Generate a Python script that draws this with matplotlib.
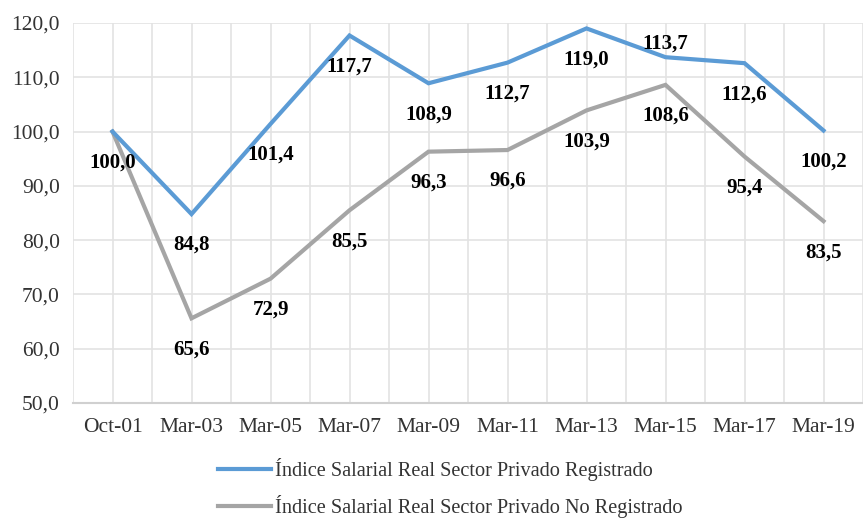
import matplotlib
matplotlib.use("Agg")
import matplotlib.pyplot as plt

# chart data
periods = ["Oct-01", "Mar-03", "Mar-05", "Mar-07", "Mar-09",
           "Mar-11", "Mar-13", "Mar-15", "Mar-17", "Mar-19"]
registrado = [100.0, 84.8, 101.4, 117.7, 108.9, 112.7, 119.0, 113.7, 112.6, 100.2]
no_registrado = [100.0, 65.6, 72.9, 85.5, 96.3, 96.6, 103.9, 108.6, 95.4, 83.5]
y_ticks = [50, 60, 70, 80, 90, 100, 110, 120]

label_reg = "Índice Salarial Real Sector Privado Registrado"
label_noreg = "Índice Salarial Real Sector Privado No Registrado"

plt.rcParams["font.family"] = ["Liberation Serif", "DejaVu Serif"]

fig = plt.figure(figsize=(8.63, 5.19), dpi=100)
ax = fig.add_axes([73 / 863, 1 - 403 / 519, 1 - 73 / 863, (403 - 23) / 519])

x = list(range(len(periods)))
ax.plot(x, registrado, color="#5B9BD5", lw=3, solid_joinstyle="miter", label=label_reg, zorder=3)
ax.plot(x, no_registrado, color="#A5A5A5", lw=3, solid_joinstyle="miter", label=label_noreg, zorder=2)

ax.set_xlim(-0.5, 9.36)
ax.set_ylim(50, 120)
ax.set_yticks(y_ticks)
ax.set_yticklabels([f"{v:.1f}".replace(".", ",") for v in y_ticks])
ax.set_xticks(x)
ax.set_xticklabels(periods)
ax.set_xticks([i - 0.5 for i in range(len(periods) + 1)], minor=True)

ax.grid(True, which="major", axis="y", color="#E3E3E3", lw=1.2)
ax.grid(True, which="both", axis="x", color="#E3E3E3", lw=1.2)
ax.set_axisbelow(True)
for s in ["top", "right", "left"]:
    ax.spines[s].set_visible(False)
ax.spines["bottom"].set_color("#D0D0D0")
ax.spines["bottom"].set_linewidth(1.5)
ax.tick_params(which="both", length=0)
ax.tick_params(axis="y", labelsize=15.5, labelcolor="#333333", pad=9.5)
ax.tick_params(axis="x", labelsize=15.5, labelcolor="#333333", pad=11)


def fmt(v):
    return f"{v:.1f}".replace(".", ",")


# data labels (mostly below the point)
for i, v in enumerate(registrado):
    dy = 14 if i == 7 else -31
    ax.annotate(fmt(v), (i, v), xytext=(0, dy), textcoords="offset pixels",
                ha="center", va="center", fontsize=15, fontweight="bold", color="black")
for i, v in enumerate(no_registrado):
    if i == 0:
        continue
    ax.annotate(fmt(v), (i, v), xytext=(0, -31), textcoords="offset pixels",
                ha="center", va="center", fontsize=15, fontweight="bold", color="black")

fig.legend(loc="upper left", bbox_to_anchor=(218 / 863, 1 - 458 / 519), frameon=False,
           fontsize=14.6, handlelength=2.6, handletextpad=0.2, labelspacing=0.7,
           borderpad=0, borderaxespad=0, labelcolor="#333333")

fig.savefig("out.png", dpi=100)
